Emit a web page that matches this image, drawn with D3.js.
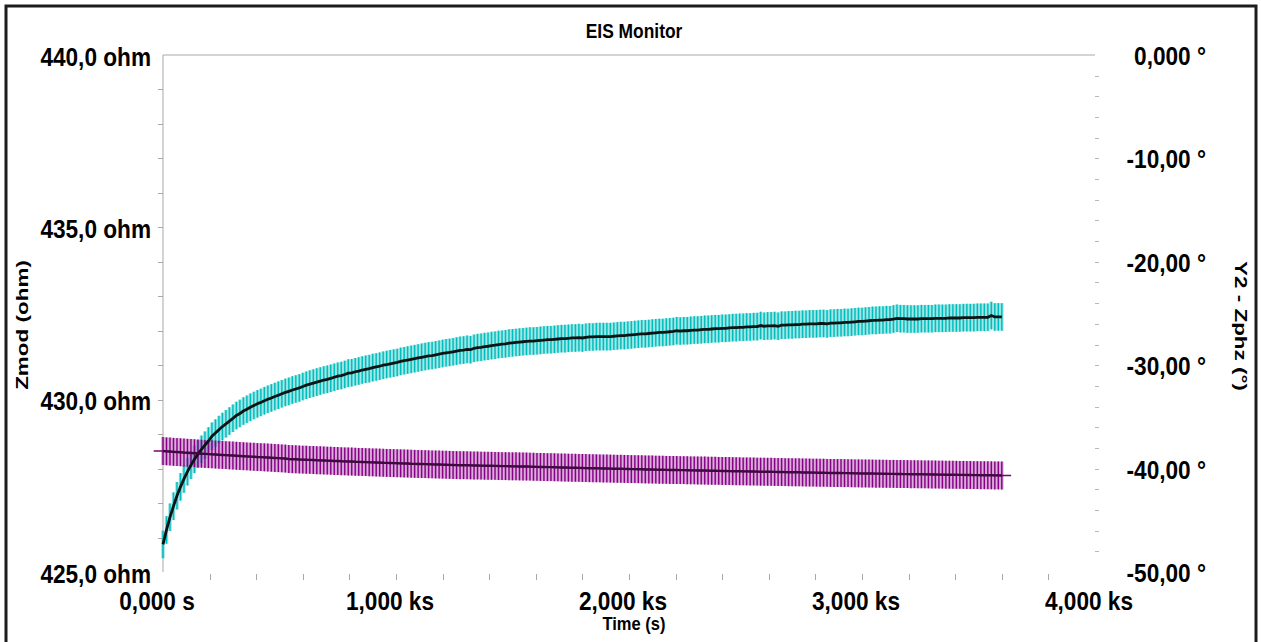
<!DOCTYPE html>
<html>
<head>
<meta charset="utf-8">
<script src="https://cdn.jsdelivr.net/npm/d3@7"></script>
<style>
  body { margin: 0; background: #fff; }
  svg { display: block; }
  text { font-family: "Liberation Sans", Arial, sans-serif; font-weight: bold; fill: #000; }
</style>
</head>
<body>
<svg id="viz" width="1261" height="642"></svg>
<script>
// sample times (s)
const TIME_S = [0,15,30,45,60,75,90,105,120,135,150,165,180,195,210,225,240,255,270,285,300,315,330,345,360,375,390,405,420,435,450,465,480,495,510,525,540,555,570,585,
  600,615,630,645,660,675,690,705,720,735,750,765,780,795,810,825,840,855,870,885,900,915,930,945,960,975,990,1005,1020,1035,1050,1065,1080,1095,1110,1125,1140,1155,1170,1185,
  1200,1215,1230,1245,1260,1275,1290,1305,1320,1335,1350,1365,1380,1395,1410,1425,1440,1455,1470,1485,1500,1515,1530,1545,1560,1575,1590,1605,1620,1635,1650,1665,1680,1695,1710,1725,1740,1755,1770,1785,
  1800,1815,1830,1845,1860,1875,1890,1905,1920,1935,1950,1965,1980,1995,2010,2025,2040,2055,2070,2085,2100,2115,2130,2145,2160,2175,2190,2205,2220,2235,2250,2265,2280,2295,2310,2325,2340,2355,2370,2385,
  2400,2415,2430,2445,2460,2475,2490,2505,2520,2535,2550,2565,2580,2595,2610,2625,2640,2655,2670,2685,2700,2715,2730,2745,2760,2775,2790,2805,2820,2835,2850,2865,2880,2895,2910,2925,2940,2955,2970,2985,
  3000,3015,3030,3045,3060,3075,3090,3105,3120,3135,3150,3165,3180,3195,3210,3225,3240,3255,3270,3285,3300,3315,3330,3345,3360,3375,3390,3405,3420,3435,3450,3465,3480,3495,3510,3525,3540,3555,3570,3585,3600];

// Zmod (ohm), left axis
const ZMOD_OHM = [425.80,426.22,426.59,426.91,427.21,427.47,427.70,427.91,428.10,428.27,
  428.42,428.56,428.68,428.80,428.94,429.03,429.13,429.22,429.30,429.38,
  429.46,429.54,429.60,429.67,429.72,429.78,429.83,429.88,429.92,429.97,
  430.01,430.05,430.09,430.13,430.17,430.21,430.24,430.28,430.31,430.34,
  430.38,430.42,430.45,430.48,430.51,430.54,430.57,430.59,430.62,430.65,
  430.68,430.70,430.73,430.77,430.78,430.81,430.83,430.86,430.88,430.90,
  430.93,430.95,430.97,431.00,431.02,431.04,431.06,431.08,431.11,431.13,
  431.15,431.17,431.19,431.21,431.23,431.25,431.27,431.28,431.30,431.32,
  431.34,431.36,431.37,431.39,431.41,431.43,431.44,431.46,431.45,431.49,
  431.51,431.52,431.54,431.55,431.57,431.58,431.60,431.61,431.62,431.64,
  431.65,431.66,431.67,431.68,431.69,431.70,431.70,431.71,431.72,431.73,
  431.74,431.74,431.75,431.76,431.77,431.77,431.78,431.79,431.79,431.80,
  431.79,431.81,431.82,431.82,431.83,431.83,431.83,431.83,431.83,431.84,
  431.85,431.86,431.86,431.87,431.88,431.89,431.90,431.91,431.91,431.92,
  431.93,431.94,431.95,431.95,431.96,431.97,431.98,432.00,431.99,432.00,
  432.00,432.01,432.02,432.02,432.03,432.04,432.04,432.05,432.06,432.06,
  432.07,432.07,432.08,432.09,432.09,432.10,432.10,432.11,432.11,432.12,
  432.12,432.15,432.13,432.14,432.14,432.15,432.13,432.16,432.16,432.17,
  432.17,432.18,432.18,432.19,432.19,432.20,432.20,432.20,432.21,432.21,
  432.20,432.22,432.22,432.23,432.23,432.24,432.24,432.25,432.26,432.27,
  432.27,432.28,432.29,432.30,432.30,432.31,432.31,432.32,432.32,432.34,
  432.36,432.35,432.35,432.34,432.34,432.34,432.34,432.35,432.35,432.35,
  432.35,432.36,432.36,432.36,432.36,432.37,432.37,432.37,432.37,432.38,
  432.38,432.38,432.38,432.39,432.39,432.39,432.39,432.44,432.40,432.40,
  432.40];

// Zphz (deg), right axis
const ZPHZ_DEG = [-38.30,-38.33,-38.35,-38.38,-38.40,-38.42,-38.45,-38.47,-38.49,-38.51,-38.54,-38.56,
  -38.58,-38.60,-38.62,-38.64,-38.66,-38.68,-38.70,-38.72,-38.74,-38.76,-38.78,-38.80,
  -38.82,-38.84,-38.86,-38.88,-38.89,-38.91,-38.93,-38.95,-38.97,-38.99,-39.01,-39.03,
  -39.07,-39.09,-39.10,-39.12,-39.13,-39.14,-39.16,-39.17,-39.19,-39.20,-39.21,-39.23,
  -39.24,-39.26,-39.27,-39.29,-39.30,-39.31,-39.32,-39.34,-39.35,-39.36,-39.37,-39.39,
  -39.40,-39.41,-39.42,-39.44,-39.45,-39.46,-39.47,-39.48,-39.49,-39.50,-39.51,-39.53,
  -39.54,-39.55,-39.56,-39.57,-39.58,-39.59,-39.60,-39.61,-39.62,-39.63,-39.64,-39.65,
  -39.66,-39.67,-39.67,-39.68,-39.69,-39.70,-39.70,-39.71,-39.72,-39.73,-39.73,-39.74,
  -39.75,-39.76,-39.76,-39.77,-39.78,-39.78,-39.79,-39.79,-39.80,-39.81,-39.82,-39.83,
  -39.84,-39.85,-39.86,-39.86,-39.87,-39.88,-39.89,-39.90,-39.91,-39.92,-39.92,-39.93,
  -39.94,-39.95,-39.96,-39.96,-39.97,-39.98,-39.99,-39.99,-40.00,-40.01,-40.02,-40.02,
  -40.03,-40.04,-40.05,-40.05,-40.06,-40.07,-40.08,-40.08,-40.09,-40.10,-40.11,-40.11,
  -40.12,-40.13,-40.13,-40.14,-40.15,-40.15,-40.16,-40.17,-40.17,-40.18,-40.19,-40.19,
  -40.20,-40.21,-40.21,-40.22,-40.23,-40.23,-40.24,-40.25,-40.25,-40.26,-40.27,-40.27,
  -40.28,-40.28,-40.29,-40.30,-40.30,-40.31,-40.31,-40.32,-40.33,-40.33,-40.34,-40.35,
  -40.35,-40.36,-40.36,-40.37,-40.38,-40.38,-40.39,-40.39,-40.40,-40.40,-40.41,-40.42,
  -40.42,-40.43,-40.43,-40.44,-40.44,-40.45,-40.46,-40.46,-40.47,-40.47,-40.48,-40.48,
  -40.49,-40.49,-40.50,-40.50,-40.51,-40.51,-40.52,-40.52,-40.53,-40.53,-40.54,-40.54,
  -40.55,-40.55,-40.56,-40.56,-40.57,-40.57,-40.58,-40.58,-40.59,-40.59,-40.60,-40.60,
  -40.61,-40.61,-40.62,-40.62,-40.63,-40.63,-40.64,-40.64,-40.65,-40.65,-40.66,-40.66,
  -40.67];

const ZMOD_ERR = 0.40;   // +/- ohm
const ZPHZ_ERR = 1.35;   // +/- deg

const X_TICKS = [0, 1000, 2000, 3000, 4000];
const X_TICK_LABELS = ["0,000 s", "1,000 ks", "2,000 ks", "3,000 ks", "4,000 ks"];
const Y_LEFT_TICKS = [425, 430, 435, 440];
const Y_LEFT_LABELS = ["425,0 ohm", "430,0 ohm", "435,0 ohm", "440,0 ohm"];
const Y_RIGHT_TICKS = [-50, -40, -30, -20, -10, 0];
const Y_RIGHT_LABELS = ["-50,00 °", "-40,00 °", "-30,00 °", "-20,00 °", "-10,00 °", "0,000 °"];

const svg = d3.select("#viz");
const SQ = 0.87; // text is drawn a bit narrow in the original

const x = d3.scaleLinear().domain([0, 4000]).range([163, 1095]);
const yL = d3.scaleLinear().domain([425, 440]).range([572, 55]);
const yR = d3.scaleLinear().domain([-50, 0]).range([572, 55]);

function label(g, px, py, txt, anchor, size) {
    g.append("text")
        .attr("transform", `translate(${px},${py}) scale(${SQ},1)`)
        .attr("text-anchor", anchor)
        .style("font-size", size + "px")
        .text(txt);
}

// frame
svg.append("rect").attr("x", 0).attr("y", 0).attr("width", 1261).attr("height", 642).attr("fill", "#fff");
svg.append("rect").attr("x", 6).attr("y", 6).attr("width", 1250).attr("height", 680)
    .attr("fill", "none").attr("stroke", "#1c1c1c").attr("stroke-width", 3);

// plot borders (left + top only)
svg.append("line").attr("x1", x(0)).attr("x2", x(0)).attr("y1", yL(440)).attr("y2", yL(425))
    .attr("stroke", "#a8a8a8").attr("stroke-width", 1);
svg.append("line").attr("x1", x(0)).attr("x2", x(4000)).attr("y1", yL(440)).attr("y2", yL(440))
    .attr("stroke", "#a8a8a8").attr("stroke-width", 1);

const axes = svg.append("g");

// left minor ticks, 1 ohm
axes.selectAll(".lt").data(d3.range(426, 440)).join("line")
    .attr("x1", x(0) - 5).attr("x2", x(0))
    .attr("y1", d => Math.round(yL(d)) + 0.5).attr("y2", d => Math.round(yL(d)) + 0.5)
    .attr("stroke", "#a8a8a8");

// right minor ticks, 2 deg
axes.selectAll(".rt").data(d3.range(-48, 0, 2)).join("line")
    .attr("x1", x(4000)).attr("x2", x(4000) + 4)
    .attr("y1", d => Math.round(yR(d)) + 0.5).attr("y2", d => Math.round(yR(d)) + 0.5)
    .attr("stroke", "#b8b8b8");

// bottom minor ticks, 200 s
axes.selectAll(".bt").data(d3.range(200, 4000, 200)).join("line")
    .attr("x1", d => Math.round(x(d)) + 0.5).attr("x2", d => Math.round(x(d)) + 0.5)
    .attr("y1", yL(425) + 2).attr("y2", yL(425) + 8)
    .attr("stroke", "#a8a8a8");

// tick labels
Y_LEFT_TICKS.forEach((v, i) => label(axes, 151, yL(v) + 10.5, Y_LEFT_LABELS[i], "end", 26));
Y_RIGHT_TICKS.forEach((v, i) => label(axes, 1206, yR(v) + 10, Y_RIGHT_LABELS[i], "end", 26));
X_TICKS.forEach((v, i) => label(axes, x(v) - 6, 610, X_TICK_LABELS[i], "middle", 26));

// titles
label(svg, 634, 38, "EIS Monitor", "middle", 20);
label(svg, 634, 630, "Time (s)", "middle", 19);
svg.append("text").attr("transform", "translate(28,325) rotate(-90) scale(1.07,0.8)")
    .attr("text-anchor", "middle").style("font-size", "21px").text("Zmod (ohm)");
svg.append("text").attr("transform", "translate(1235,326) rotate(90) scale(1.07,0.8)")
    .attr("text-anchor", "middle").style("font-size", "21px").text("Y2 - Zphz (°)");

const pts = TIME_S.map((t, i) => ({ t: t, z: ZMOD_OHM[i], p: ZPHZ_DEG[i] }));

// error bars
function bars(cls, yScale, key, err, light, dark) {
    const g = svg.append("g").attr("class", cls);
    g.selectAll("rect").data(pts).join("rect")
        .attr("x", d => x(d.t) - 1.7).attr("width", 3.4)
        .attr("y", d => yScale(d[key] + err))
        .attr("height", d => yScale(d[key] - err) - yScale(d[key] + err))
        .attr("fill", light).attr("opacity", 0.5);
    g.selectAll("line").data(pts).join("line")
        .attr("x1", d => x(d.t)).attr("x2", d => x(d.t))
        .attr("y1", d => yScale(d[key] + err)).attr("y2", d => yScale(d[key] - err))
        .attr("stroke", dark).attr("stroke-width", 1.4);
}
bars("zbars", yL, "z", ZMOD_ERR, "#22c8c8", "#00bcbc");
bars("pbars", yR, "p", ZPHZ_ERR, "#a640a6", "#880088");

// mean lines
svg.append("path").datum(pts)
    .attr("d", d3.line().x(d => x(d.t)).y(d => yL(d.z)))
    .attr("fill", "none").attr("stroke", "#0a1414").attr("stroke-width", 2.8);

// the phase trace runs a little past the first and last sample
const ext = [{ t: -40, p: ZPHZ_DEG[0] }].concat(pts, [{ t: 3640, p: ZPHZ_DEG[ZPHZ_DEG.length - 1] }]);
svg.append("path").datum(ext)
    .attr("d", d3.line().x(d => x(d.t)).y(d => yR(d.p)))
    .attr("fill", "none").attr("stroke", "#7a007a").attr("stroke-width", 1.6);
svg.append("path").datum(pts)
    .attr("d", d3.line().x(d => x(d.t)).y(d => yR(d.p)))
    .attr("fill", "none").attr("stroke", "#3c0a3c").attr("stroke-width", 2.4);
</script>
</body>
</html>
